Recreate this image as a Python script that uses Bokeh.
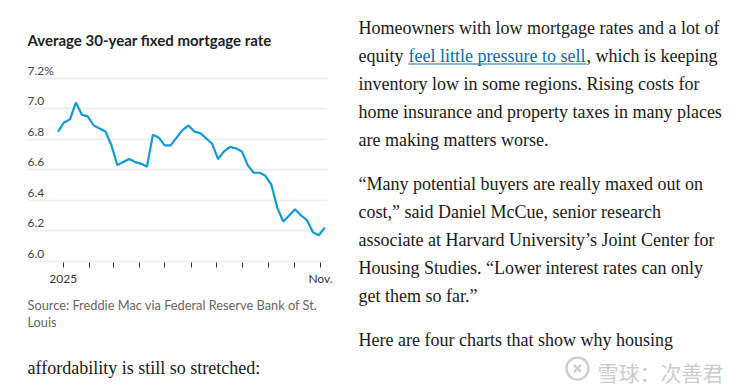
from datetime import datetime
from bokeh.plotting import figure
from bokeh.layouts import row, column
from bokeh.models import Range1d, FixedTicker, Label
from bokeh.core.properties import value
from bokeh.embed import file_html
from bokeh.resources import INLINE

# ---------------- data ----------------
week_dates = [
    "2024-12-26", "2025-01-02", "2025-01-09", "2025-01-16", "2025-01-23", "2025-01-30",
    "2025-02-06", "2025-02-13", "2025-02-20", "2025-02-27", "2025-03-06", "2025-03-13",
    "2025-03-20", "2025-03-27", "2025-04-03", "2025-04-10", "2025-04-17", "2025-04-24",
    "2025-05-01", "2025-05-08", "2025-05-15", "2025-05-22", "2025-05-29", "2025-06-05",
    "2025-06-12", "2025-06-18", "2025-06-26", "2025-07-03", "2025-07-10", "2025-07-17",
    "2025-07-24", "2025-07-31", "2025-08-07", "2025-08-14", "2025-08-21", "2025-08-28",
    "2025-09-04", "2025-09-11", "2025-09-18", "2025-09-25", "2025-10-02", "2025-10-09",
    "2025-10-16", "2025-10-23", "2025-10-30", "2025-11-06",
]
rates = [
    6.85, 6.91, 6.93, 7.04, 6.96, 6.95,
    6.89, 6.87, 6.85, 6.76, 6.63, 6.65,
    6.67, 6.65, 6.64, 6.62, 6.83, 6.81,
    6.76, 6.76, 6.81, 6.86, 6.89, 6.85,
    6.84, 6.81, 6.77, 6.67, 6.72, 6.75,
    6.74, 6.72, 6.63, 6.58, 6.58, 6.56,
    6.50, 6.35, 6.26, 6.30, 6.34, 6.30,
    6.27, 6.19, 6.17, 6.22,
]
y_ticks = [6.0, 6.2, 6.4, 6.6, 6.8, 7.0, 7.2]
y_tick_labels = ["6.0", "6.2", "6.4", "6.6", "6.8", "7.0", "7.2%"]
x_tick_dates = ["2025-01-01", "2025-02-01", "2025-03-01", "2025-04-01", "2025-05-01",
                "2025-06-01", "2025-07-01", "2025-08-01", "2025-09-01", "2025-10-01",
                "2025-11-01"]
x_tick_labels = ["2025", "", "", "", "", "", "", "", "", "", "Nov."]

chart_title = "Average 30-year fixed mortgage rate"
source_lines = ["Source: Freddie Mac via Federal Reserve Bank of St.", "Louis"]

para1_lines = [
    "Homeowners with low mortgage rates and a lot of",
    "inventory low in some regions. Rising costs for",
    "home insurance and property taxes in many places",
    "are making matters worse.",
]
para1_link_line = ["equity ", "feel little pressure to sell", ", which is keeping"]
para2_lines = [
    "\u201cMany potential buyers are really maxed out on",
    "cost,\u201d said Daniel McCue, senior research",
    "associate at Harvard University\u2019s Joint Center for",
    "Housing Studies. \u201cLower interest rates can only",
    "get them so far.\u201d",
]
para3_lines = ["Here are four charts that show why housing"]
left_tail = "affordability is still so stretched:"
watermark = "雪球：次善君"

# ---------------- helpers ----------------
EPOCH = datetime(1970, 1, 1)


def to_ms(s):
    return (datetime.strptime(s, "%Y-%m-%d") - EPOCH).total_seconds() * 1000.0


DAY = 86400000.0
xs = [to_ms(d) for d in week_dates]
tick_ms = [to_ms(d) for d in x_tick_dates]

SANS = "Lato"
SERIF = "Liberation Serif"
BODY = "18px"
TXT = "#1a1a1a"
LINK = "#0A6BB3"
DY = -5  # baseline correction for text glyphs

# page geometry
TOTAL_W, TOTAL_H = 740, 386
LW = 346                     # left column width
RW = TOTAL_W - LW            # right column width
TOP_H = 62                   # title strip height
FRAME_L, FRAME_W = 27, 300   # chart frame
FRAME_R = LW - FRAME_L - FRAME_W
FRAME_T, FRAME_B = 62, 262   # page y of chart frame top / bottom
CHART_BOTTOM = 290
CHART_H = CHART_BOTTOM - TOP_H
BOT_H = TOTAL_H - CHART_BOTTOM


def text_canvas(w, h, x0, x1, left=0, right=0):
    f = figure(width=w, height=h, output_backend="svg", toolbar_location=None,
               x_range=Range1d(x0, x1), y_range=Range1d(h, 0),
               x_axis_location=None, y_axis_location=None,
               min_border_left=left, min_border_right=right,
               min_border_top=0, min_border_bottom=0)
    f.outline_line_color = None
    f.grid.visible = False
    f.background_fill_color = "white"
    f.border_fill_color = "white"
    return f


def put(f, x, yb, txt, font=SANS, size="12px", color="#222222", style="normal"):
    f.text(x=[x], y=[yb + DY], text=[txt], text_font=value(font), text_font_size=size,
           text_color=color, text_font_style=style, text_baseline="alphabetic",
           text_align="left")


# ---------------- title strip ----------------
top = text_canvas(LW, TOP_H, FRAME_L, FRAME_L + FRAME_W, FRAME_L, FRAME_R)
put(top, 27, 44, chart_title, size="15px", color="#222222", style="bold")

# ---------------- chart ----------------
px_per_day = 0.84638
x_start = tick_ms[0] - (62.7 - FRAME_L) / px_per_day * DAY
x_end = x_start + FRAME_W / px_per_day * DAY
px_per_unit = 152.5
y_start = 6.0 - (FRAME_B - 260.7) / px_per_unit
y_end = y_start + (FRAME_B - FRAME_T) / px_per_unit

p = figure(
    width=LW, height=CHART_H, output_backend="svg", toolbar_location=None,
    x_axis_type="datetime", y_axis_location=None,
    x_range=Range1d(x_start, x_end), y_range=Range1d(y_start, y_end),
    min_border_left=FRAME_L, min_border_right=FRAME_R,
    min_border_top=FRAME_T - TOP_H, min_border_bottom=CHART_BOTTOM - FRAME_B,
)
p.outline_line_color = None
p.background_fill_color = "white"
p.border_fill_color = "white"
p.xgrid.grid_line_color = None
p.ygrid.ticker = FixedTicker(ticks=y_ticks)
p.ygrid.grid_line_color = "#efefef"
p.ygrid.grid_line_width = 2

ax = p.xaxis[0]
ax.ticker = FixedTicker(ticks=tick_ms)
ax.major_label_overrides = {int(t): lab for t, lab in zip(tick_ms, x_tick_labels)}
ax.axis_line_color = None
ax.major_tick_line_color = "#333333"
ax.major_tick_in = 0
ax.major_tick_out = 5
ax.minor_tick_line_color = None
ax.major_label_text_font = SANS
ax.major_label_text_font_size = "12px"
ax.major_label_text_color = "#333333"
ax.major_label_standoff = 3

p.line(xs, rates, line_color="#0E9BD8", line_width=2.2)

for v, t in zip(y_ticks, y_tick_labels):
    p.add_layout(Label(x=0, y=v, x_units="screen", y_units="data", text=t,
                       text_font=SANS, text_font_size="12px", text_color="#444444",
                       text_baseline="alphabetic", y_offset=7.5))

# ---------------- bottom-left text ----------------
bot = text_canvas(LW, BOT_H, FRAME_L, FRAME_L + FRAME_W, FRAME_L, FRAME_R)
y0 = CHART_BOTTOM
put(bot, 27, 309 - y0, source_lines[0], size="12.8px", color="#666666")
put(bot, 27, 326 - y0, source_lines[1], size="12.8px", color="#666666")
put(bot, 27, 372 - y0, left_tail, font=SERIF, size=BODY, color=TXT)

# ---------------- right column text ----------------
rt = text_canvas(RW, TOTAL_H, LW, TOTAL_W)
X0 = 358
put(rt, X0, 32, para1_lines[0], font=SERIF, size=BODY, color=TXT)
put(rt, X0, 60, para1_link_line[0], font=SERIF, size=BODY, color=TXT)
put(rt, 408, 60, para1_link_line[1], font=SERIF, size=BODY, color=LINK)
put(rt, 586, 60, para1_link_line[2], font=SERIF, size=BODY, color=TXT)
rt.segment(x0=[408], y0=[63.5], x1=[586], y1=[63.5], line_color=LINK, line_width=1)
for yb, line in zip([88, 116, 144], para1_lines[1:]):
    put(rt, X0, yb, line, font=SERIF, size=BODY, color=TXT)
for yb, line in zip([188, 216, 244, 272, 300], para2_lines):
    put(rt, X0, yb, line, font=SERIF, size=BODY, color=TXT)
put(rt, X0, 344, para3_lines[0], font=SERIF, size=BODY, color=TXT)

# watermark (logo ring + text)
rt.scatter(x=[577], y=[368], size=22, marker="circle", fill_color=None,
           line_color="#d0d0d0", line_width=2.5)
rt.scatter(x=[577], y=[368], size=10, marker="x", line_color="#d0d0d0", line_width=2.5)
put(rt, 597, 376, watermark, font="Noto Sans CJK SC", size="21px", color="#cccccc")

layout = row(column(top, p, bot, spacing=0), rt, spacing=0)
open("out.html", "w").write(file_html(layout, INLINE))
